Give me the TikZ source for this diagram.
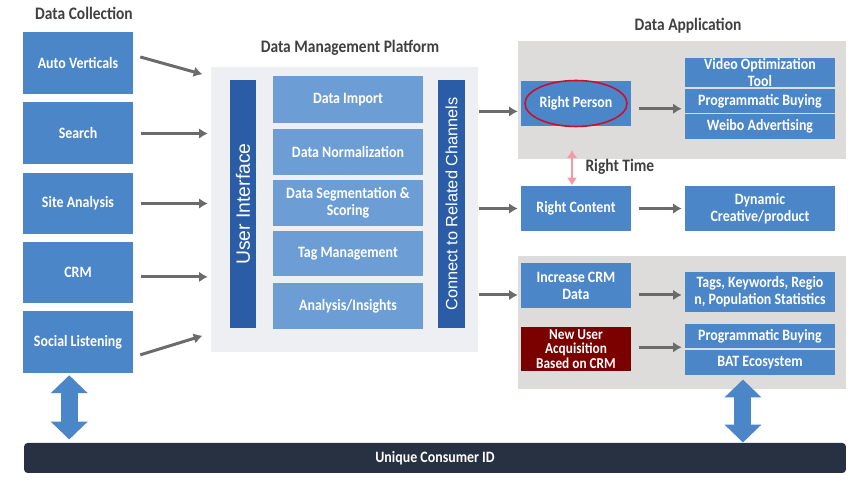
\documentclass[tikz,border=0pt]{standalone}
\usepackage{fontspec}
\setmainfont{Carlito}
\newfontfamily\boxfont{Carlito}[FakeStretch=0.88]
\newfontfamily\barfont{Liberation Sans}
\usetikzlibrary{arrows.meta}
\definecolor{srcblue}{HTML}{4A86C8}
\definecolor{dmpblue}{HTML}{6C9DD5}
\definecolor{barblue}{HTML}{2A5DA5}
\definecolor{panelgray}{HTML}{EEEFF3}
\definecolor{appgray}{HTML}{DDDCDB}
\definecolor{linegray}{HTML}{6B6B6B}
\definecolor{titlegray}{HTML}{404040}
\definecolor{crmred}{HTML}{7B0000}
\definecolor{idnavy}{HTML}{283142}
\definecolor{timepink}{HTML}{F39AA4}
\definecolor{circlered}{HTML}{C8102E}
\tikzset{
  heading/.style={text=titlegray, font=\boxfont\bfseries\fontsize{10}{11}\selectfont, inner sep=0pt},
  box/.style={fill=srcblue, text=white, font=\boxfont\bfseries\fontsize{9}{9.6}\selectfont, align=center, inner sep=0pt, minimum width=2.2cm},
  srcbox/.style={box, minimum height=1.24cm},
  dmpbox/.style={box, fill=dmpblue, minimum width=3cm},
  appbox/.style={box, minimum height=0.9cm},
  resbox/.style={box, minimum width=3cm},
  bar/.style={fill=barblue, text=white, inner sep=0pt, minimum width=4.96cm, rotate=90},
  panel/.style={inner sep=0pt},
  flow/.style={draw=linegray, line width=1.7pt, ->, shorten <=4pt, shorten >=1.5pt},
  linkarrow/.style={draw=srcblue, line width=9.7pt, {Triangle[length=10.2pt,width=20.5pt]}-{Triangle[length=10.2pt,width=20.5pt]}},
}
\begin{document}
\begin{tikzpicture}[x=0.02cm,y=-0.02cm,semithick,>={Latex[length=5pt,width=6pt]}]
  \useasboundingbox (0,0) rectangle (866,482);

  % data collection
  \node[heading] (colltitle) at (84,13) {Data Collection};
  \node[srcbox] (auto) at (78,63.5) {Auto Verticals};
  \node[srcbox] (search) at (78,133.5) {Search};
  \node[srcbox] (site) at (78,203.5) {Site Analysis};
  \node[srcbox] (crm) at (78,272.5) {CRM};
  \node[srcbox] (social) at (78,342) {Social Listening};

  % data management platform
  \node[heading] (dmptitle) at (350,48) {Data Management Platform};
  \node[panel, fill=panelgray, minimum width=5.34cm, minimum height=5.7cm] (dmp) at (344.5,209.5) {};
  \node[bar, minimum height=0.52cm, font=\barfont\fontsize{11}{12}\selectfont] (ui) at (243,204) {User Interface};
  \node[bar, minimum height=0.54cm, font=\barfont\fontsize{9.3}{11}\selectfont] (connect) at (451.5,204) {Connect to Related Channels};
  \node[dmpbox, minimum height=0.94cm] (import) at (348,99.5) {Data Import};
  \node[dmpbox, minimum height=0.92cm] (norm) at (348,152) {Data Normalization};
  \node[dmpbox, minimum height=0.92cm] (seg) at (348,203) {Data Segmentation \&\\Scoring};
  \node[dmpbox, minimum height=0.9cm] (tag) at (348,253.5) {Tag Management};
  \node[dmpbox, minimum height=0.92cm] (insight) at (348,306) {Analysis/Insights};

  \coordinate (in1) at (205,75);
  \coordinate (in5) at (205,335);
  \draw[flow] ([yshift=4.8pt]auto.east) -- (in1);
  \draw[flow] (search.east) -- (search.east -| dmp.west);
  \draw[flow] (site.east) -- (site.east -| dmp.west);
  \draw[flow] ([yshift=-2.5pt]crm.east) -- ([yshift=-2.5pt]crm.east -| dmp.west);
  \draw[flow] ([yshift=-8.5pt]social.east) -- (in5);

  % data application
  \node[heading] (apptitle) at (688,26) {Data Application};
  \node[panel, fill=appgray, minimum width=6.56cm, minimum height=2.36cm] (topapp) at (682,100) {};
  \node[panel, fill=appgray, minimum width=6.56cm, minimum height=2.66cm] (crmapp) at (682,322.5) {};

  \node[appbox] (person) at (576,103.5) {Right Person};
  \draw[circlered, line width=0.9pt] (person.center) ellipse [x radius=1.02cm, y radius=0.46cm];
  \node[resbox, minimum height=0.54cm] (video) at (760,72.5) {Video Optimization\\Tool};
  \node[resbox, minimum height=0.48cm] (prog) at (760,101) {Programmatic Buying};
  \node[resbox, minimum height=0.5cm] (weibo) at (760,126.5) {Weibo Advertising};

  \node[appbox] (content) at (576,208.5) {Right Content};
  \node[resbox, minimum height=0.9cm] (dynamic) at (760,208.5) {Dynamic\\Creative/product};

  \node[appbox] (crmdata) at (576,285.5) {Increase CRM\\Data};
  \node[appbox, fill=crmred, minimum height=0.88cm, font=\boxfont\bfseries\fontsize{8.6}{8.4}\selectfont] (newuser) at (576,349) {New User\\Acquisition\\Based on CRM};
  \node[resbox, minimum height=0.8cm] (tags) at (760,292) {Tags, Keywords, Regio\\n, Population Statistics};
  \node[resbox, minimum height=0.48cm] (prog2) at (760,336) {Programmatic Buying};
  \node[resbox, minimum height=0.5cm] (bat) at (760,362.5) {BAT Ecosystem};

  \draw[flow, shorten <=0pt] ([yshift=-4.5pt]person.west -| dmp.east) -- ([yshift=-4.5pt]person.west);
  \draw[flow, shorten <=0pt] (content.west -| dmp.east) -- (content.west);
  \draw[flow, shorten <=0pt] ([yshift=-5.4pt]crmdata.west -| dmp.east) -- ([yshift=-5.4pt]crmdata.west);
  \draw[flow] ([yshift=-3pt]person.east) -- ([yshift=-3pt]person.east -| prog.west);
  \draw[flow] (content.east) -- (dynamic.west);
  \draw[flow] ([yshift=-5.4pt]crmdata.east) -- ([yshift=-5.4pt]crmdata.east -| tags.west);
  \draw[flow] ([yshift=1pt]newuser.east) -- ([yshift=1pt]newuser.east -| prog2.west);

  \coordinate (timetop) at (572,150);
  \draw[timepink, line width=1.6pt, {Latex[length=4.5pt,width=6pt]}-{Latex[length=4.5pt,width=6pt]}] (timetop) -- (timetop |- content.north);
  \node[heading, anchor=west] (righttime) at (585,167) {Right Time};

  % unique id
  \node[fill=idnavy, rounded corners=2pt, text=white, font=\boxfont\bfseries\fontsize{9}{10}\selectfont, minimum width=16.44cm, minimum height=0.6cm, inner sep=0pt] (uid) at (435,458) {Unique Consumer ID};
  \draw[linkarrow, shorten <=1pt, shorten >=1.7pt] ([xshift=-5pt]social.south) -- ([xshift=-5pt]social.south |- uid.north);
  \draw[linkarrow, shorten <=2.3pt] ([xshift=-9.7pt]bat.south) -- ([xshift=-9.7pt]bat.south |- uid.north);
\end{tikzpicture}
\end{document}
